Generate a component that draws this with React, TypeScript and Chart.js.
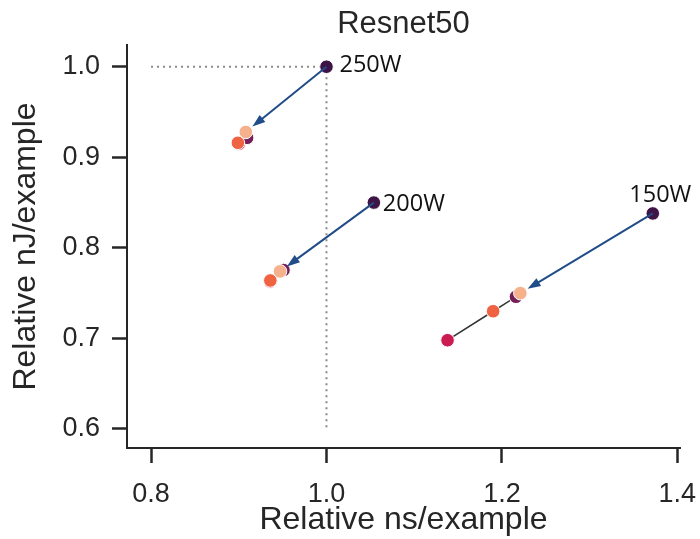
import React, { useEffect, useRef } from 'react';
import { Chart, registerables } from 'chart.js';

Chart.register(...registerables);

// Power caps, one group of runs each
const powerCaps = ['250W', '200W', '150W'];

// Default configuration under each cap (relative ns/example, relative nJ/example)
const baseNs = [1.0, 1.054, 1.372];
const baseNj = [1.0, 0.85, 0.838];

// Tuned configurations under each cap
const crimsonNs = [0.9, 0.936, 1.138];
const crimsonNj = [0.915, 0.763, 0.698];
const orangeNs = [0.899, 0.936, 1.19];
const orangeNj = [0.916, 0.764, 0.73];
const magentaNs = [0.9095, 0.951, 1.216];
const magentaNj = [0.9215, 0.7755, 0.746];
const peachNs = [0.908, 0.947, 1.221];
const peachNj = [0.928, 0.774, 0.75];

// Reference guide through the (1.0, 1.0) baseline
const guideNs = [0.8, 1.0, 1.0];
const guideNj = [1.0, 1.0, 0.6];

const xTicks = [0.8, 1.0, 1.2, 1.4];
const yTicks = [0.6, 0.7, 0.8, 0.9, 1.0];

const INK = '#262626';
const SANS = '"Liberation Sans", Arial, sans-serif';
const ARROW = '#204c88';

const pts = (xs: number[], ys: number[]) => xs.map((x, i) => ({ x, y: ys[i] }));

const pointSet = (label: string, xs: number[], ys: number[], color: string, order: number) => ({
  label,
  data: pts(xs, ys),
  backgroundColor: color,
  borderColor: '#ffffff',
  borderWidth: 1,
  pointRadius: 6.8,
  showLine: false,
  order,
});

// Arrows from each default point to its peach configuration, plus cap labels
const annotatePlugin = {
  id: 'annotate',
  afterDatasetsDraw(chart: any) {
    const { ctx, scales } = chart;
    const xs = scales.x;
    const ys = scales.y;
    ctx.save();
    powerCaps.forEach((cap, i) => {
      const x0 = xs.getPixelForValue(baseNs[i]);
      const y0 = ys.getPixelForValue(baseNj[i]);
      const x1 = xs.getPixelForValue(peachNs[i]);
      const y1 = ys.getPixelForValue(peachNj[i]);
      const dx = x1 - x0;
      const dy = y1 - y0;
      const len = Math.hypot(dx, dy);
      const ux = dx / len;
      const uy = dy / len;
      const tipX = x1 - ux * 8.5;
      const tipY = y1 - uy * 8.5;
      const headLen = 13;
      const headHalf = 4.5;
      const bx = tipX - ux * headLen;
      const by = tipY - uy * headLen;
      ctx.strokeStyle = ARROW;
      ctx.fillStyle = ARROW;
      ctx.lineWidth = 2;
      ctx.beginPath();
      ctx.moveTo(x0, y0);
      ctx.lineTo(bx + ux * 2, by + uy * 2);
      ctx.stroke();
      ctx.beginPath();
      ctx.moveTo(tipX, tipY);
      ctx.lineTo(bx - uy * headHalf, by + ux * headHalf);
      ctx.lineTo(bx + uy * headHalf, by - ux * headHalf);
      ctx.closePath();
      ctx.fill();

      ctx.fillStyle = '#111111';
      ctx.font = '23.5px "Open Sans", sans-serif';
      ctx.textBaseline = 'alphabetic';
      if (i === 2) {
        ctx.textAlign = 'center';
        ctx.fillText(cap, x0 + 7.5, y0 - 11);
      } else if (i === 1) {
        ctx.textAlign = 'left';
        ctx.fillText(cap, x0 + 9, y0 + 8.5);
      } else {
        ctx.textAlign = 'left';
        ctx.fillText(cap, x0 + 13, y0 + 5);
      }
    });
    ctx.restore();
  },
  afterDraw(chart: any) {
    const { ctx, chartArea } = chart;
    ctx.save();
    ctx.fillStyle = INK;
    ctx.font = `31px ${SANS}`;
    ctx.textAlign = 'center';
    ctx.textBaseline = 'alphabetic';
    ctx.fillText('Resnet50', (chartArea.left + chartArea.right) / 2, 33);
    ctx.restore();
  },
};

export default function App() {
  const canvasRef = useRef<HTMLCanvasElement | null>(null);

  useEffect(() => {
    const canvas = canvasRef.current;
    if (!canvas) return;

    const linkSets = powerCaps.map((cap, i) => ({
      label: `${cap} path`,
      data: [
        { x: crimsonNs[i], y: crimsonNj[i] },
        { x: orangeNs[i], y: orangeNj[i] },
        { x: magentaNs[i], y: magentaNj[i] },
        { x: peachNs[i], y: peachNj[i] },
      ],
      showLine: true,
      borderColor: '#333333',
      borderWidth: 1.5,
      pointRadius: 0,
      order: 10,
    }));

    const chart = new Chart(canvas, {
      type: 'scatter',
      data: {
        datasets: [
          pointSet('default', baseNs, baseNj, '#3e1446', 0),
          pointSet('peach', peachNs, peachNj, '#f5b08c', 1),
          pointSet('orange', orangeNs, orangeNj, '#ef6343', 2),
          pointSet('magenta', magentaNs, magentaNj, '#751f5a', 3),
          pointSet('crimson', crimsonNs, crimsonNj, '#cb1b51', 4),
          ...linkSets,
          {
            label: 'guide',
            data: pts(guideNs, guideNj),
            showLine: true,
            borderColor: '#8a8a8a',
            borderWidth: 2,
            borderDash: [2, 4],
            pointRadius: 0,
            order: 20,
          },
        ] as any,
      },
      options: {
        responsive: false,
        animation: false,
        devicePixelRatio: 1,
        layout: { padding: { left: 0, top: 45, right: 20, bottom: 0 } },
        plugins: {
          legend: { display: false },
          tooltip: { enabled: false },
          title: { display: false },
        },
        scales: {
          x: {
            type: 'linear',
            min: 0.7726,
            max: 1.403,
            afterBuildTicks: (s: any) => {
              s.ticks = xTicks.map((value) => ({ value }));
            },
            afterFit: (s: any) => {
              s.height = 91;
              s.paddingLeft = 0;
              s.paddingRight = 0;
            },
            grid: {
              display: true,
              drawOnChartArea: false,
              drawTicks: true,
              tickLength: 15,
              tickWidth: 2.5,
              tickColor: INK,
            },
            border: { display: true, color: INK, width: 2 },
            ticks: {
              color: INK,
              font: { family: SANS, size: 27 },
              padding: 15,
              maxRotation: 0,
              callback: (v: any) => Number(v).toFixed(1),
            },
            title: {
              display: true,
              text: 'Relative ns/example',
              color: INK,
              font: { family: SANS, size: 32 },
              padding: { top: 0, bottom: 0 },
            },
          },
          y: {
            type: 'linear',
            min: 0.579,
            max: 1.024,
            afterBuildTicks: (s: any) => {
              s.ticks = yTicks.map((value) => ({ value }));
            },
            afterFit: (s: any) => {
              s.width = 127;
              s.paddingTop = 0;
              s.paddingBottom = 0;
            },
            grid: {
              display: true,
              drawOnChartArea: false,
              drawTicks: true,
              tickLength: 15,
              tickWidth: 2.5,
              tickColor: INK,
            },
            border: { display: true, color: INK, width: 2 },
            ticks: {
              color: INK,
              font: { family: SANS, size: 27 },
              padding: 12,
              callback: (v: any) => Number(v).toFixed(1),
            },
            title: {
              display: true,
              text: 'Relative nJ/example',
              color: INK,
              font: { family: SANS, size: 32 },
              padding: { top: 7, bottom: 0 },
            },
          },
        },
      } as any,
      plugins: [annotatePlugin],
    });

    return () => chart.destroy();
  }, []);

  return (
    <div
      style={{
        position: 'fixed',
        left: 0,
        top: 0,
        width: 700,
        height: 539,
        background: '#ffffff',
      }}
    >
      <canvas ref={canvasRef} width={700} height={539} style={{ width: 700, height: 539 }} />
    </div>
  );
}
